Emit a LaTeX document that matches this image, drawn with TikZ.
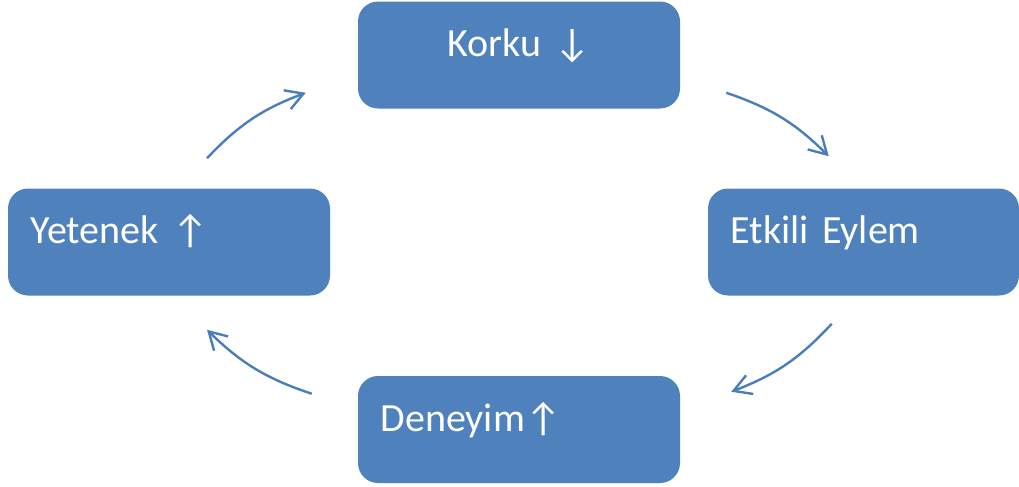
\documentclass[tikz,border=0pt]{standalone}
\usepackage{fontspec}
\setmainfont{Carlito}
\usetikzlibrary{arrows.meta}
\definecolor{boxblue}{HTML}{4F81BD}
\definecolor{lineblue}{HTML}{4A7EBB}
\newcommand{\uparr}{↑}
\newcommand{\downarr}{↓}
\tikzset{
    box/.style = {fill=boxblue, rounded corners=15pt,
        inner xsep=17pt, inner ysep=0pt,
        text height=41.25pt, text depth=39pt,
        text width=207.5pt, align=left,
        text=white, font=\fontsize{30}{36}\selectfont},
    arrow/.style = {draw=lineblue, line width=1.8pt,
        -{Straight Barb[length=13pt,width=15pt]}, bend left=13}
}
\begin{document}
\begin{tikzpicture}[x=0.75pt, y=-0.75pt]
    \useasboundingbox (0,0) rectangle (1019,486);
    \node [box, align=center] (korku) at (519,55) {Korku \downarr};
    \node [box, text width=199.25pt] (etkili) at (863.5,242) {Etkili Eylem};
    \node [box] (deneyim) at (519,429.5) {Deneyim\uparr};
    \node [box] (yetenek) at (169,242) {Yetenek \uparr};
    \draw [arrow] ([shift={(38,-30)}]yetenek.north) to ([shift={(-52,-16)}]korku.south west);
    \draw [arrow] ([shift={(46,-16)}]korku.south east) to ([shift={(121,-32)}]etkili.north west);
    \draw [arrow] ([shift={(124,28)}]etkili.south west) to ([shift={(51,16)}]deneyim.north east);
    \draw [arrow] ([shift={(-46,18)}]deneyim.north west) to ([shift={(38,34)}]yetenek.south);
\end{tikzpicture}
\end{document}
